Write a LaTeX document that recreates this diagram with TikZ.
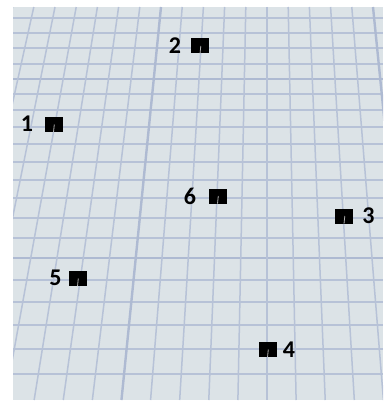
\documentclass[tikz,border=0pt]{standalone}
\usepackage{fontspec}
\setmainfont{Carlito}
\definecolor{bgc}{HTML}{DCE3E7}
\definecolor{gridc}{HTML}{B7C2D7}
\definecolor{majc}{HTML}{AEBAD2}
\begin{document}
\begin{tikzpicture}[x=1pt,y=-1pt,
  thinline/.style={gridc,line width=1.5pt},
  majline/.style={majc,line width=2.4pt},
  marker/.style={fill=black,minimum width=18pt,minimum height=15pt,inner sep=0pt},
  lab/.style={font=\bfseries\fontsize{24}{24}\selectfont,inner sep=0pt},
  notch/.style={gray!60,line width=0.8pt}]
\useasboundingbox (0,0) rectangle (383,403);
\fill[bgc] (13,7) rectangle (383,400);
\begin{scope}
\clip (13,7) rectangle (383,400);
\foreach \yy in {18,33,48,64,94,110,127,144,162,180,198,218,238,280,302,325,349,374}
  \draw[thinline] (13,\yy) -- (383,\yy);
\foreach \yy in {79,258}
  \draw[majline] (13,\yy) -- (383,\yy);
\foreach \k in {-12,-11,-10,-9,-8,-7,-6,-4,-3,-2,-1,0,1,2,3,4} {
  \pgfmathsetmacro\xt{267+21.2*\k}
  \pgfmathsetmacro\xb{267+21.2*\k*1.373}
  \draw[thinline] (\xt,7) -- (\xb,400);
}
\foreach \k in {-5,5} {
  \pgfmathsetmacro\xt{267+21.2*\k}
  \pgfmathsetmacro\xb{267+21.2*\k*1.373}
  \draw[majline] (\xt,7) -- (\xb,400);
}
\end{scope}
\node[marker] (m1) at (53.5,124.5) {};
\node[marker] (m2) at (200,46) {};
\node[marker] (m3) at (344,216) {};
\node[marker] (m4) at (267.5,349.5) {};
\node[marker] (m5) at (77.5,278.5) {};
\node[marker] (m6) at (217.5,196) {};
\foreach \m in {m1,m2,m3,m4,m5,m6}
  \draw[notch] ([xshift=0.8pt]\m.center) -- (\m.south);
\node[lab] (l1) at (27,124) {1};
\node[lab] (l2) at (175,46) {2};
\node[lab] (l3) at (368.5,216) {3};
\node[lab] (l4) at (289,350) {4};
\node[lab] (l5) at (55.5,278) {5};
\node[lab] (l6) at (190,196) {6};
\end{tikzpicture}
\end{document}
